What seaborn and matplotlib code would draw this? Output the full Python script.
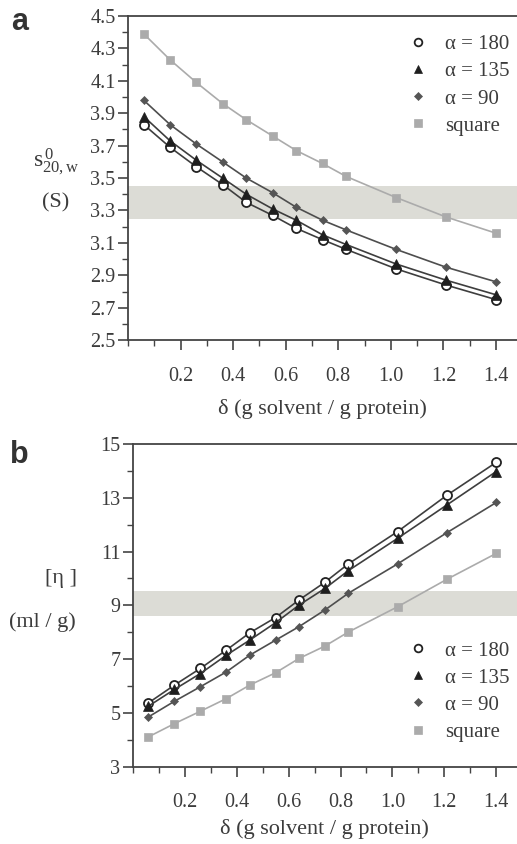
import numpy as np
import pandas as pd
import seaborn as sns
import matplotlib.pyplot as plt
from matplotlib.lines import Line2D
from matplotlib.ticker import MultipleLocator

# --------------------------------------------------
# DATA
# --------------------------------------------------

delta = [0.06, 0.16, 0.26, 0.36, 0.45, 0.55, 0.64, 0.74, 0.83, 1.02, 1.21, 1.40]

series_names = ["α = 180", "α = 135", "α = 90", "square"]

x_ticks = [0.2, 0.4, 0.6, 0.8, 1.0, 1.2, 1.4]
x_ticklabels = ["0.2", "0.4", "0.6", "0.8", "1.0", "1.2", "1.4"]

# panel a : sedimentation coefficient s0_20,w (S)
s_a180 = [3.83, 3.69, 3.57, 3.46, 3.35, 3.27, 3.19, 3.12, 3.06, 2.94, 2.84, 2.75]
s_a135 = [3.88, 3.73, 3.61, 3.50, 3.40, 3.31, 3.24, 3.15, 3.09, 2.97, 2.87, 2.78]
s_a90 = [3.98, 3.83, 3.71, 3.60, 3.50, 3.41, 3.32, 3.24, 3.18, 3.06, 2.95, 2.86]
s_square = [4.39, 4.23, 4.09, 3.96, 3.86, 3.76, 3.67, 3.59, 3.51, 3.38, 3.26, 3.16]
s_band = (3.25, 3.45)
s_ticks = [2.5, 2.7, 2.9, 3.1, 3.3, 3.5, 3.7, 3.9, 4.1, 4.3, 4.5]

# panel b : intrinsic viscosity [eta] (ml/g)
eta_a180 = [5.38, 6.04, 6.66, 7.34, 7.98, 8.55, 9.20, 9.86, 10.54, 11.74, 13.09, 14.31]
eta_a135 = [5.26, 5.88, 6.47, 7.15, 7.71, 8.36, 9.01, 9.63, 10.29, 11.49, 12.73, 13.97]
eta_a90 = [4.86, 5.44, 5.98, 6.53, 7.15, 7.71, 8.21, 8.83, 9.45, 10.54, 11.70, 12.82]
eta_square = [4.12, 4.61, 5.07, 5.54, 6.04, 6.50, 7.03, 7.49, 8.01, 8.95, 9.97, 10.93]
eta_band = (8.6, 9.55)
eta_ticks = [3, 5, 7, 9, 11, 13, 15]

# --------------------------------------------------
# STYLE
# --------------------------------------------------

sns.set_style("ticks")
plt.rcParams["font.family"] = ["Liberation Serif", "DejaVu Serif"]
plt.rcParams["mathtext.fontset"] = "stix"

TXT = "#3c3c3c"
DARK = "#3e3e3e"
LIGHT = "#ababab"

styles = {
    "α = 180": dict(marker="o", mfc="white", mec="#222222", ms=6.5, mew=1.3, lc=DARK),
    "α = 135": dict(marker="^", mfc="#1e1e1e", mec="#1e1e1e", ms=6.5, mew=0.5, lc=DARK),
    "α = 90": dict(marker="D", mfc="#555555", mec="#555555", ms=4.5, mew=0.5, lc="#4e4e4e"),
    "square": dict(marker="s", mfc=LIGHT, mec=LIGHT, ms=6, mew=0.5, lc=LIGHT),
}


def long_table(values):
    rows = []
    for name, ys in zip(series_names, values):
        for x, y in zip(delta, ys):
            rows.append({"delta": x, "value": y, "series": name})
    return pd.DataFrame(rows)


def draw_panel(ax, df, band, yticks, yminor, yfmt, xlabelpad):
    ax.axhspan(band[0], band[1], color="#dcdcd6", lw=0, zorder=0)
    for name in series_names:
        st = styles[name]
        sub = df[df["series"] == name]
        sns.lineplot(data=sub, x="delta", y="value", ax=ax, color=st["lc"], lw=1.2,
                     marker=st["marker"], markersize=st["ms"], markerfacecolor=st["mfc"],
                     markeredgecolor=st["mec"], markeredgewidth=st["mew"],
                     legend=False, zorder=3)
    ax.set_xlim(0, 1.48)
    ax.set_ylim(yticks[0], yticks[-1])
    ax.set_xticks(x_ticks)
    ax.set_xticklabels(x_ticklabels)
    ax.xaxis.set_minor_locator(MultipleLocator(0.1))
    ax.set_yticks(yticks)
    ax.set_yticklabels([yfmt % t for t in yticks])
    ax.yaxis.set_minor_locator(MultipleLocator(yminor))
    for s in ["left", "bottom", "top"]:
        ax.spines[s].set_color("#444444")
        ax.spines[s].set_linewidth(1.3)
    ax.spines["right"].set_visible(False)
    ax.tick_params(axis="both", which="major", direction="out", length=7, width=1.2,
                   color="#444444", labelsize=14.5, labelcolor=TXT)
    ax.tick_params(axis="both", which="minor", direction="out", length=4, width=1.0,
                   color="#444444")
    ax.tick_params(axis="x", which="major", pad=12)
    ax.tick_params(axis="y", which="major", pad=2)
    ax.set_xlabel("δ (g solvent / g protein)", fontsize=16, color=TXT, labelpad=xlabelpad)
    ax.set_ylabel("")

    handles = []
    for name in series_names:
        st = styles[name]
        handles.append(Line2D([], [], ls="none", marker=st["marker"], ms=st["ms"] * 0.85,
                              mfc=st["mfc"], mec=st["mec"], mew=st["mew"]))
    return handles


fig = plt.figure(figsize=(5.17, 8.44), dpi=100)

ax_a = fig.add_axes([0.2476, 0.597, 0.7524, 0.384])
ax_b = fig.add_axes([0.257, 0.0912, 0.743, 0.383])

h = draw_panel(ax_a, long_table([s_a180, s_a135, s_a90, s_square]), s_band,
               s_ticks, 0.1, "%.1f", 10)
ax_a.legend(h, series_names, loc="upper right", bbox_to_anchor=(1.03, 1.0), frameon=False,
            fontsize=15, handletextpad=0.7, labelspacing=0.36, handlelength=1.2,
            labelcolor=TXT)

h = draw_panel(ax_b, long_table([eta_a180, eta_a135, eta_a90, eta_square]), eta_band,
               eta_ticks, 1, "%d", 5)
ax_b.legend(h, series_names, loc="lower right", bbox_to_anchor=(1.03, 0.02), frameon=False,
            fontsize=15, handletextpad=0.7, labelspacing=0.36, handlelength=1.2,
            labelcolor=TXT)

# y-axis labels written horizontally
fig.text(0.108, 1 - 162 / 844, r"$\mathregular{s^{\,0}_{20,w}}$", fontsize=17,
         color=TXT, ha="center", va="center")
fig.text(0.108, 1 - 203 / 844, "(S)", fontsize=16, color=TXT, ha="center", va="center")
fig.text(0.118, 1 - 578 / 844, "[η ]", fontsize=16, color=TXT, ha="center", va="center")
fig.text(0.082, 1 - 622 / 844, "(ml / g)", fontsize=16, color=TXT, ha="center", va="center")

# panel letters
fig.text(0.022, 1 - 22 / 844, "a", fontsize=22, fontweight="bold", color="#333333",
         family=["Liberation Sans", "DejaVu Sans"], va="center")
fig.text(0.020, 1 - 455 / 844, "b", fontsize=22, fontweight="bold", color="#333333",
         family=["Liberation Sans", "DejaVu Sans"], va="center")

fig.savefig("out.png", dpi=100)
